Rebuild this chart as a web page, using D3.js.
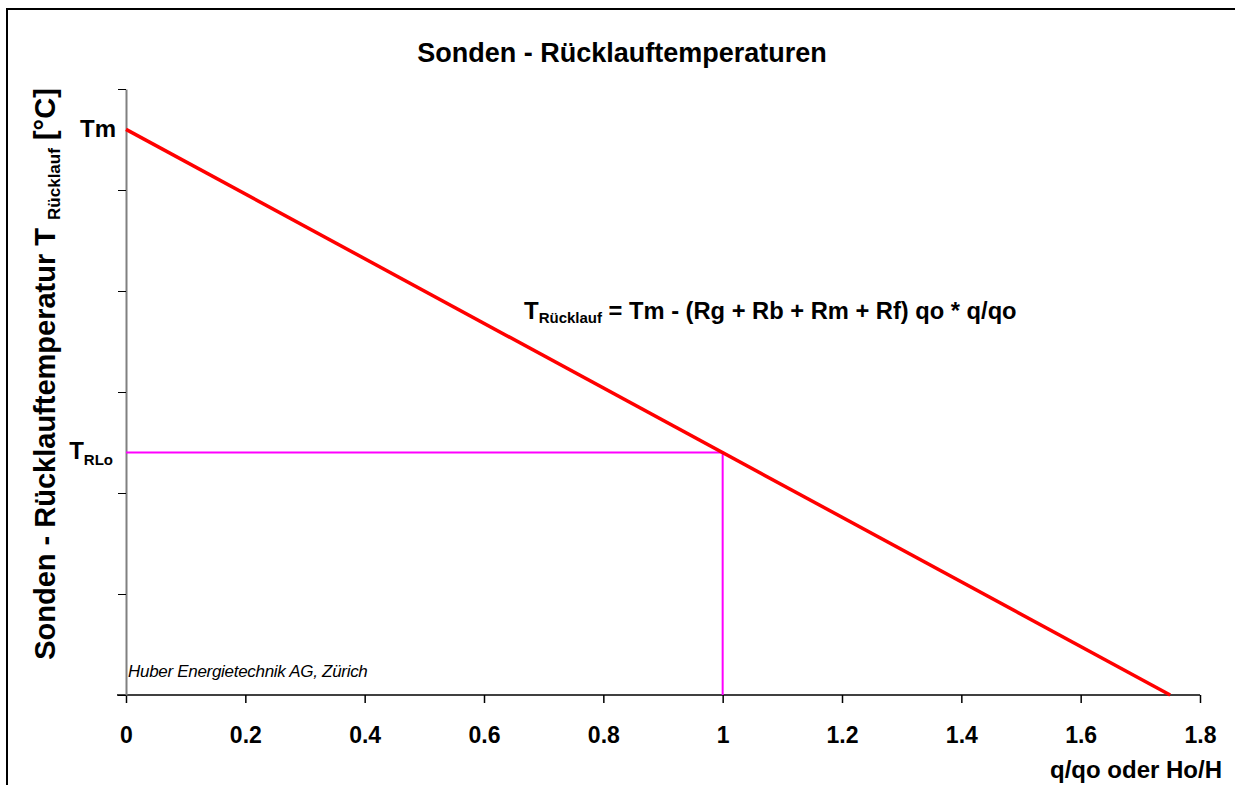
<!DOCTYPE html>
<html>
<head>
<meta charset="utf-8">
<script src="https://cdn.jsdelivr.net/npm/d3@7"></script>
<style>
  body { margin: 0; background: #fff; }
  svg { display: block; font-family: "Liberation Sans", Arial, sans-serif; }
</style>
</head>
<body>
<svg width="1235" height="785"></svg>
<script>
// data
const xTicks = [0, 0.2, 0.4, 0.6, 0.8, 1, 1.2, 1.4, 1.6, 1.8]
const yTicks = [0, 1, 2, 3, 4, 5, 6]
const lineX = [0, 1.75]
const lineY = [5.6, 0]
const tm = 5.6
const tRLo = 2.4
const qRef = 1

const svg = d3.select('svg')

//scales
const x = d3.scaleLinear().domain([0, 1.8]).range([126, 1200])
const y = d3.scaleLinear().domain([0, 6]).range([695, 89])

//frame
svg.append('rect')
    .attr('x', 7).attr('y', 9)
    .attr('width', 1300).attr('height', 900)
    .attr('fill', 'none').attr('stroke', '#000').attr('stroke-width', 2)

//title
svg.append('text')
    .attr('x', 622).attr('y', 62)
    .attr('text-anchor', 'middle')
    .style('font-size', '27px').style('font-weight', 'bold')
    .text('Sonden - Rücklauftemperaturen')

//x axis
const xAxis = svg.append('g')
    .attr('transform', 'translate(0,' + y(0) + ')')
    .call(d3.axisBottom(x).tickValues(xTicks).tickSize(8).tickSizeOuter(0).tickFormat(d3.format('')))
xAxis.select('.domain').remove()
xAxis.append('line')
    .attr('x1', 117).attr('x2', x(1.8))
    .attr('stroke', '#000').attr('stroke-width', 1.5)
xAxis.selectAll('.tick line').attr('stroke', '#000').attr('stroke-width', 1.5)
xAxis.selectAll('.tick text')
    .attr('y', 48)
    .attr('dy', 0)
    .style('font-size', '23px').style('font-weight', 'bold')
    .style('font-family', '"Liberation Sans", Arial, sans-serif')
    .attr('fill', '#000')

//y axis
const yAxis = svg.append('g')
    .attr('transform', 'translate(' + x(0) + ',0)')
    .call(d3.axisLeft(y).tickValues(yTicks).tickSize(8).tickSizeOuter(0).tickFormat(''))
yAxis.select('.domain').attr('stroke', '#808080').attr('stroke-width', 2)
yAxis.selectAll('.tick line').attr('stroke', '#000').attr('stroke-width', 1)

//reference lines
svg.append('path')
    .attr('d', d3.line()([[x(0), y(tRLo)], [x(qRef), y(tRLo)], [x(qRef), y(0)]]))
    .attr('fill', 'none').attr('stroke', '#ff00ff').attr('stroke-width', 2)

//return temperature line
svg.append('path')
    .datum(lineX.map((d, i) => [d, lineY[i]]))
    .attr('d', d3.line().x(d => x(d[0])).y(d => y(d[1])))
    .attr('fill', 'none').attr('stroke', '#ff0000').attr('stroke-width', 3.5)

//y labels
svg.append('text')
    .attr('x', 116).attr('y', y(tm) + 8)
    .attr('text-anchor', 'end')
    .style('font-size', '24px').style('font-weight', 'bold')
    .text('Tm')

const trlo = svg.append('text')
    .attr('x', 113).attr('y', y(tRLo) + 6)
    .attr('text-anchor', 'end')
    .style('font-weight', 'bold')
trlo.append('tspan').style('font-size', '24px').text('T')
trlo.append('tspan').style('font-size', '15px').attr('dy', 6).text('RLo')

//formula
const f = svg.append('text')
    .attr('x', 524).attr('y', 319)
    .style('font-weight', 'bold')
f.append('tspan').style('font-size', '24px').text('T')
f.append('tspan').style('font-size', '15px').attr('dy', 4).text('Rücklauf')
f.append('tspan').style('font-size', '23.7px').attr('dy', -4).text(' = Tm - (Rg + Rb + Rm + Rf) qo * q/qo')

//axis titles
svg.append('text')
    .attr('x', 1222).attr('y', 778)
    .attr('text-anchor', 'end')
    .style('font-size', '24px').style('font-weight', 'bold')
    .text('q/qo oder Ho/H')

const yl = svg.append('text')
    .attr('transform', 'translate(55,374) rotate(-90)')
    .attr('text-anchor', 'middle')
    .style('font-weight', 'bold')
yl.append('tspan').style('font-size', '29px').text('Sonden - Rücklauftemperatur T ')
yl.append('tspan').style('font-size', '17px').attr('dy', 5).text('Rücklauf')
yl.append('tspan').style('font-size', '29px').attr('dy', -5).text(' [°C]')

//credit
svg.append('text')
    .attr('x', 128).attr('y', 677)
    .style('font-size', '17px').style('font-style', 'italic')
    .style('letter-spacing', '-0.3px')
    .text('Huber Energietechnik AG, Zürich')
</script>
</body>
</html>
